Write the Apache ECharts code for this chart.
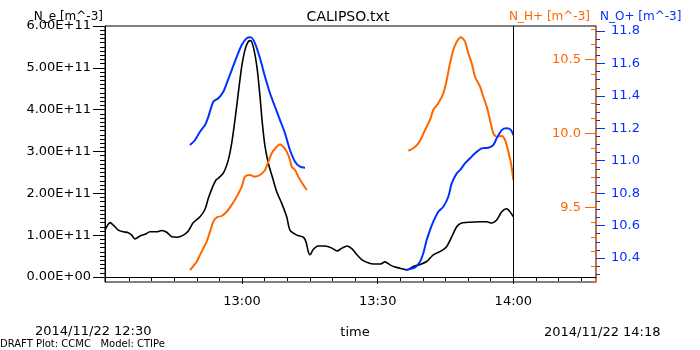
<!DOCTYPE html>
<html><head><meta charset="utf-8">
<script src="https://cdn.jsdelivr.net/npm/echarts@6/dist/echarts.min.js"></script>
<style>html,body{margin:0;padding:0;background:#fff}#c{width:700px;height:350px}</style>
</head><body><div id="c"></div>
<script>
// Time: minutes after 12:00 UT on 2014/11/22
const neTime = [29.70,30.81,31.54,32.64,33.75,34.86,35.61,36.34,37.44,38.55,39.65,41.14,42.24,43.35,44.45,45.56,47.02,48.12,49.23,50.71,51.82,52.55,53.52,54.25,54.76,55.86,56.97,57.72,58.45,59.18,59.93,60.66,61.39,61.92,62.65,63.38,63.98,64.49,65.09,65.82,66.79,67.67,68.78,69.88,70.61,72.10,73.56,74.15,74.66,75.04,75.70,76.81,78.35,79.90,81.01,82.11,83.22,84.33,85.43,86.54,87.86,89.19,90.52,91.62,92.73,93.83,94.94,96.42,97.88,99.36,100.84,102.30,104.16,105.27,106.37,107.48,108.58,110.42,112.63,114.11,115.22,116.32,117.43,118.54,119.27,120.00];
// N_e [m^-3]
const neValue = [1.12e11,1.30e11,1.24e11,1.12e11,1.08e11,1.06e11,1.00e11,0.91e11,0.98e11,1.02e11,1.08e11,1.08e11,1.11e11,1.07e11,0.96e11,0.95e11,1.00e11,1.10e11,1.30e11,1.44e11,1.62e11,1.88e11,2.16e11,2.32e11,2.36e11,2.48e11,2.80e11,3.20e11,3.76e11,4.40e11,5.03e11,5.43e11,5.63e11,5.65e11,5.43e11,4.95e11,4.31e11,3.68e11,3.12e11,2.72e11,2.36e11,2.04e11,1.76e11,1.44e11,1.12e11,1.00e11,0.95e11,0.84e11,0.60e11,0.53e11,0.65e11,0.74e11,0.74e11,0.69e11,0.62e11,0.69e11,0.74e11,0.67e11,0.53e11,0.41e11,0.34e11,0.31e11,0.31e11,0.36e11,0.29e11,0.24e11,0.21e11,0.17e11,0.25e11,0.30e11,0.37e11,0.53e11,0.63e11,0.73e11,0.96e11,1.20e11,1.29e11,1.31e11,1.32e11,1.32e11,1.29e11,1.36e11,1.56e11,1.63e11,1.56e11,1.44e11];

// N_H+ (log10 m^-3), two passes
const hTime1 = [48.50,49.23,49.98,50.71,51.44,52.19,52.92,53.65,54.41,55.51,56.62,57.72,58.83,59.93,60.66,61.77,62.87,63.98,65.09,65.82,66.57,67.67,68.40,69.13,69.88,70.61,70.99,71.72,72.45,73.27,74.31];
const hValue1 = [9.076,9.103,9.132,9.178,9.223,9.268,9.335,9.403,9.432,9.441,9.470,9.516,9.572,9.639,9.707,9.718,9.707,9.718,9.752,9.808,9.865,9.909,9.926,9.909,9.876,9.820,9.774,9.752,9.707,9.664,9.617];
const hTime2 = [96.78,97.88,98.99,99.74,100.47,101.57,102.30,103.41,104.52,105.27,106.00,106.73,107.48,108.43,109.31,110.04,110.80,111.53,112.63,113.36,114.11,114.84,115.57,116.32,117.43,118.16,118.89,119.49,120.00];
const hValue2 = [9.882,9.899,9.932,9.973,10.022,10.090,10.157,10.203,10.270,10.360,10.473,10.563,10.619,10.649,10.619,10.541,10.473,10.382,10.315,10.247,10.180,10.090,10.000,9.977,9.982,9.955,9.876,9.797,9.684];

// N_O+ (log10 m^-3), two passes
const oTime1 = [48.50,49.61,50.71,51.82,52.55,53.65,54.76,55.86,56.62,57.72,58.83,59.93,61.04,61.92,62.87,63.98,65.09,66.19,67.30,68.40,69.51,70.61,71.72,72.83,73.93];
const oValue1 = [11.097,11.128,11.179,11.220,11.271,11.364,11.385,11.426,11.477,11.559,11.641,11.714,11.755,11.761,11.724,11.632,11.518,11.416,11.333,11.251,11.169,11.066,10.994,10.963,10.957];
const oTime2 = [96.27,98.26,99.36,100.09,100.84,101.57,102.30,103.41,104.52,105.62,106.37,107.48,108.21,109.31,110.42,111.53,113.01,114.47,115.57,116.32,117.43,118.54,119.49,120.00];
const oValue2 = [10.326,10.342,10.377,10.429,10.511,10.572,10.624,10.685,10.716,10.778,10.860,10.922,10.942,10.984,11.015,11.046,11.076,11.080,11.097,11.138,11.189,11.200,11.189,11.158];

// Tick labels
const timeTicks = [60, 90, 120];           // 13:00, 13:30, 14:00
const timeMinorTicks = [35,40,45,50,55,65,70,75,80,85,95,100,105,110,115,125,130,135];
const neTicks = [0, 1e11, 2e11, 3e11, 4e11, 5e11, 6e11];
const hTicks = [9.5, 10.0, 10.5];
const oTicks = [10.4, 10.6, 10.8, 11.0, 11.2, 11.4, 11.6, 11.8];
const markerTime = 120; // vertical line at 14:00

const ORANGE = '#ff6600', BLUE = '#0033ff', FONT = 'DejaVu Sans';

function steps(a, b, s) { const r = []; for (let k = 0; a + k * s <= b + 1e-9; k++) r.push(+(a + k * s).toFixed(4)); return r; }
const neMinor = steps(0, 6e11, 1e10);
const hMinor = steps(9.0, 10.7, 0.1);
const oMinor = steps(10.3, 11.8, 0.05);

function fmtExp(v) {
  if (v === 0) return '0.00E+00';
  const e = Math.floor(Math.log10(Math.abs(v)) + 1e-9);
  const m = v / Math.pow(10, e);
  return m.toFixed(2) + 'E' + (e < 0 ? '-' : '+') + String(Math.abs(e)).padStart(2, '0');
}
function fmtTime(m) {
  const h = 12 + Math.floor(m / 60), mm = Math.round(m % 60);
  return h + ':' + String(mm).padStart(2, '0');
}
const zip = (t, v) => t.map((x, i) => [x, v[i]]);

const X_MIN = 29.7, X_MAX = 138.28;
const NE_MIN = -1.2e10, NE_MAX = 6.0e11;
const H_MIN = 8.995, H_MAX = 10.725;
const O_MIN = 10.252, O_MAX = 11.831;

const chart = echarts.init(document.getElementById('c'), null, { renderer: 'canvas' });
const lineBase = { type: 'line', showSymbol: false, symbol: 'none', smooth: 0.25, animation: false, silent: true, xAxisIndex: 0 };

chart.setOption({
  animation: false,
  backgroundColor: '#fff',
  grid: { left: 105, right: 104, top: 26, bottom: 68, show: true, borderColor: '#000', borderWidth: 1, backgroundColor: 'transparent' },
  xAxis: [
    { type: 'value', min: X_MIN, max: X_MAX, position: 'bottom',
      axisLine: { lineStyle: { color: '#000', width: 1 } },
      axisTick: { customValues: timeTicks, length: 7, lineStyle: { color: '#000' } },
      axisLabel: { customValues: timeTicks, formatter: fmtTime, color: '#000', fontSize: 13, fontFamily: FONT, margin: 13 },
      splitLine: { show: false } },
    { type: 'value', min: X_MIN, max: X_MAX, position: 'bottom',
      axisLine: { show: false },
      axisTick: { customValues: timeMinorTicks, length: 4, lineStyle: { color: '#000' } },
      axisLabel: { show: false }, splitLine: { show: false } }
  ],
  yAxis: [
    { type: 'value', min: NE_MIN, max: NE_MAX, position: 'left',
      axisLine: { show: true, lineStyle: { color: '#000' } },
      axisTick: { show: true, customValues: neTicks, length: 12, lineStyle: { color: '#000' } },
      axisLabel: { customValues: neTicks, formatter: fmtExp, color: '#000', fontSize: 13, fontFamily: FONT, margin: 14 },
      splitLine: { show: false } },
    { type: 'value', min: NE_MIN, max: NE_MAX, position: 'left',
      axisLine: { show: false },
      axisTick: { show: true, customValues: neMinor, length: 5, lineStyle: { color: '#000' } },
      axisLabel: { show: false }, splitLine: { show: false } },
    { type: 'value', min: H_MIN, max: H_MAX, position: 'right',
      axisLine: { show: true, lineStyle: { color: ORANGE } },
      axisTick: { show: true, inside: true, customValues: hTicks, length: 11, lineStyle: { color: ORANGE } },
      axisLabel: { inside: true, customValues: hTicks, formatter: v => v.toFixed(1), color: ORANGE, fontSize: 13, fontFamily: FONT, margin: 15 },
      splitLine: { show: false } },
    { type: 'value', min: H_MIN, max: H_MAX, position: 'right',
      axisLine: { show: false },
      axisTick: { show: true, inside: true, customValues: hMinor, length: 5, lineStyle: { color: ORANGE } },
      axisLabel: { show: false }, splitLine: { show: false } },
    { type: 'value', min: O_MIN, max: O_MAX, position: 'right',
      axisLine: { show: false },
      axisTick: { show: true, customValues: oTicks, length: 9, lineStyle: { color: BLUE } },
      axisLabel: { customValues: oTicks, formatter: v => v.toFixed(1), color: BLUE, fontSize: 13, fontFamily: FONT, margin: 15 },
      splitLine: { show: false } },
    { type: 'value', min: O_MIN, max: O_MAX, position: 'right',
      axisLine: { show: false },
      axisTick: { show: true, customValues: oMinor, length: 4, lineStyle: { color: BLUE } },
      axisLabel: { show: false }, splitLine: { show: false } }
  ],
  series: [
    Object.assign({}, lineBase, { name: 'N_e', yAxisIndex: 0, data: zip(neTime, neValue), lineStyle: { color: '#000', width: 1.6 },
      markLine: { silent: true, symbol: 'none', label: { show: false }, animation: false,
        lineStyle: { color: '#000', type: 'solid', width: 1 }, data: [{ xAxis: markerTime }] } }),
    Object.assign({}, lineBase, { name: 'N_H+ a', yAxisIndex: 2, data: zip(hTime1, hValue1), lineStyle: { color: ORANGE, width: 2 } }),
    Object.assign({}, lineBase, { name: 'N_H+ b', yAxisIndex: 2, data: zip(hTime2, hValue2), lineStyle: { color: ORANGE, width: 2 } }),
    Object.assign({}, lineBase, { name: 'N_O+ a', yAxisIndex: 4, data: zip(oTime1, oValue1), lineStyle: { color: BLUE, width: 2 } }),
    Object.assign({}, lineBase, { name: 'N_O+ b', yAxisIndex: 4, data: zip(oTime2, oValue2), lineStyle: { color: BLUE, width: 2 } })
  ],
  graphic: [
    { type: 'text', x: 348, y: 17, style: { text: 'CALIPSO.txt', font: '14px "DejaVu Sans"', fill: '#000', textAlign: 'center', textVerticalAlign: 'middle' } },
    { type: 'text', x: 103, y: 17, style: { text: 'N_e [m^-3]', font: '12px "DejaVu Sans"', fill: '#000', textAlign: 'right', textVerticalAlign: 'middle' } },
    { type: 'text', x: 590, y: 17, style: { text: 'N_H+ [m^-3]', font: '12px "DejaVu Sans"', fill: ORANGE, textAlign: 'right', textVerticalAlign: 'middle' } },
    { type: 'text', x: 600, y: 17, style: { text: 'N_O+ [m^-3]', font: '12px "DejaVu Sans"', fill: BLUE, textAlign: 'left', textVerticalAlign: 'middle' } },
    { type: 'text', x: 355, y: 333, style: { text: 'time', font: '13px "DejaVu Sans"', fill: '#000', textAlign: 'center', textVerticalAlign: 'middle' } },
    { type: 'text', x: 35, y: 332, style: { text: '2014/11/22 12:30', font: '13px "DejaVu Sans"', fill: '#000', textAlign: 'left', textVerticalAlign: 'middle' } },
    { type: 'text', x: 544, y: 333, style: { text: '2014/11/22 14:18', font: '13px "DejaVu Sans"', fill: '#000', textAlign: 'left', textVerticalAlign: 'middle' } },
    { type: 'text', x: 0, y: 344, style: { text: 'DRAFT Plot: CCMC   Model: CTIPe', font: '10px "DejaVu Sans"', fill: '#000', textAlign: 'left', textVerticalAlign: 'middle' } }
  ]
});
</script></body></html>
